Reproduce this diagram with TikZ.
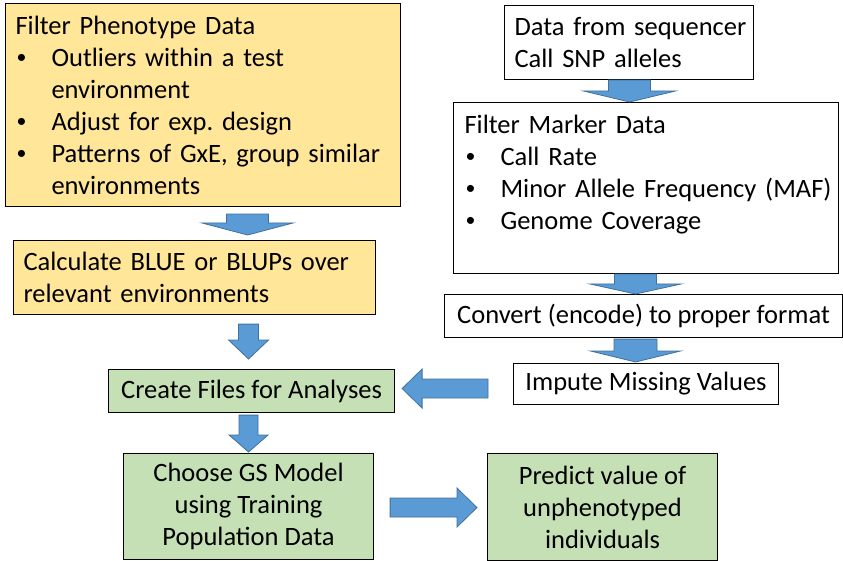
\documentclass[tikz,border=0pt]{standalone}
\usepackage{fontspec}
\usepackage{graphicx}
\setmainfont{Carlito}
\frenchspacing
\usetikzlibrary{calc}
\definecolor{gold}{HTML}{FFE699}
\definecolor{leaf}{HTML}{C5E0B4}
\definecolor{arrowblue}{HTML}{5B9BD5}
\definecolor{arrowedge}{HTML}{41719C}
\newcommand{\itm}[1]{\mbox{\makebox[36pt][l]{\hspace*{1pt}\raisebox{3pt}{\scalebox{0.75}{\textbullet}}}#1}}
\newcommand{\ind}[1]{\mbox{\hspace*{36pt}#1}}
\tikzset{
    box/.style n args={2}{draw=black, line width=1.1pt, anchor=north west, inner ysep=0pt,
        minimum width=#1pt, minimum height=#2pt,
        font=\fontsize{26.5}{32}\selectfont},
    lbox/.style n args={3}{box={#1}{#2}, align=left, inner xsep=#3pt, text width={#1pt-2*#3pt}},
    cbox/.style n args={2}{box={#1}{#2}, align=center, inner xsep=0pt},
    blk/.style n args={3}{draw=arrowedge, line width=0.8pt, fill=arrowblue,
        to path={let \p1=(\tikztostart), \p2=(\tikztotarget),
            \n1={atan2(\y2-\y1,\x2-\x1)} in
            ($(\p1)+({\n1+90}:#1pt)$)
            -- ($(\p2)+({\n1+180}:#3pt)+({\n1+90}:#1pt)$)
            -- ($(\p2)+({\n1+180}:#3pt)+({\n1+90}:#2pt)$)
            -- (\p2)
            -- ($(\p2)+({\n1+180}:#3pt)+({\n1-90}:#2pt)$)
            -- ($(\p2)+({\n1+180}:#3pt)+({\n1-90}:#1pt)$)
            -- ($(\p1)+({\n1-90}:#1pt)$) -- cycle}}
}
\begin{document}
\begin{tikzpicture}[x=1pt, y=-1pt]
    \useasboundingbox (0,0) rectangle (843,561);
    \node[lbox={395}{203}{10}, fill=gold] (phen) at (5,3) {\mbox{Filter Phenotype Data}\\
        \itm{Outliers within a test}\\ \ind{environment}\\
        \itm{Adjust for exp. design}\\
        \itm{Patterns of GxE, group similar}\\ \ind{environments}};
    \node[lbox={362}{74}{10}, fill=gold] (blue) at (13,240) {\mbox{Calculate BLUE or BLUPs over}\\ relevant environments};
    \node[lbox={249}{74}{10}, fill=white] (seq) at (504,5) {\mbox{Data from sequencer}\\ \mbox{Call SNP alleles}};
    \node[lbox={385}{171}{11}, fill=white] (marker) at (453,102) {\mbox{Filter Marker Data}\\
        \itm{Call Rate}\\
        \itm{Minor Allele Frequency (MAF)}\\
        \itm{Genome Coverage}\\ \mbox{}};
    \node[cbox={398}{43}, fill=white] (conv) at (444,294) {Convert (encode) to proper format};
    \node[cbox={265}{41}, fill=white] (impute) at (513,363) {Impute Missing Values};
    \node[cbox={286}{43}, fill=leaf] (files) at (108,369) {Create Files for Analyses};
    \node[cbox={250}{106}, fill=leaf] (model) at (123,453) {Choose GS Model\\ using Training\\ Population Data};
    \node[cbox={230}{107}, fill=leaf] (predict) at (487,453) {Predict value of\\ unphenotyped\\ individuals};

    \draw[blk={21}{45.5}{12}] ([xshift=44.5pt,yshift=-7pt]phen.south) to ([xshift=53pt,yshift=5pt]blue.north);
    \draw[blk={10}{20}{19}] ([xshift=54pt,yshift=-9pt]blue.south) to ([xshift=-3pt,yshift=10pt]files.north);
    \draw[blk={9.5}{19.5}{17}] ([xshift=-3pt,yshift=-2pt]files.south) to ([yshift=1pt]model.north);
    \draw[blk={9.5}{19.5}{20}] ([xshift=16pt,yshift=-1pt]model.east) to ([xshift=-10pt,yshift=-0.5pt]predict.west);
    \draw[blk={9.5}{19.5}{20}] ([xshift=-25pt,yshift=-4.5pt]impute.west) to ([xshift=7pt,yshift=2.5pt]files.east);
    \draw[blk={21}{46}{11}] ([xshift=0.5pt]seq.south) to ([xshift=-16.5pt]marker.north);
    \draw[blk={21}{45.5}{10}] ([xshift=-10.5pt]marker.south) to ([xshift=-8pt]conv.north);
    \draw[blk={21.5}{45}{11}] ([xshift=-8pt,yshift=-1pt]conv.south) to ([xshift=-10.5pt,yshift=1pt]impute.north);
\end{tikzpicture}
\end{document}
